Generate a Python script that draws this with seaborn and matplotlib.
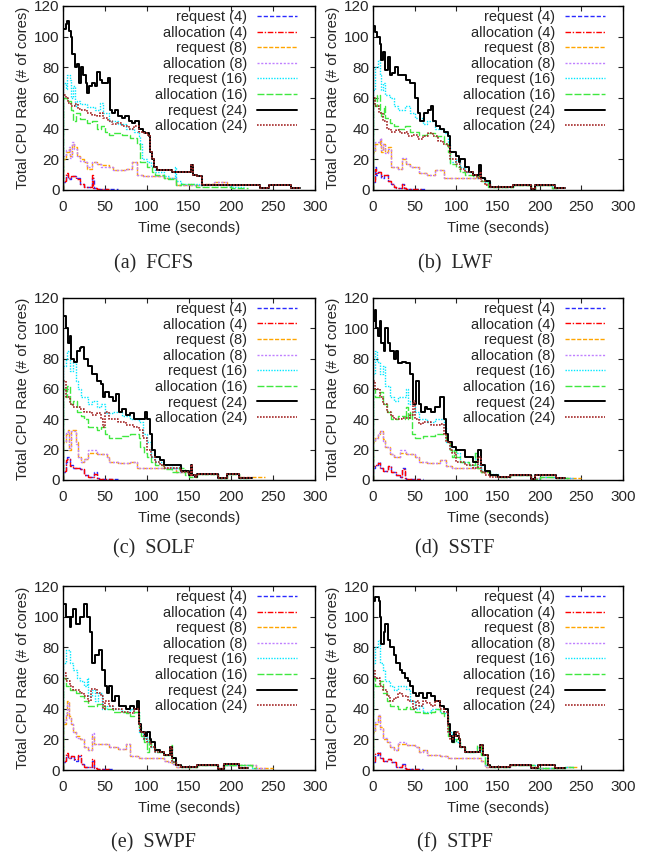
import pandas as pd
import matplotlib
matplotlib.use("Agg")
import matplotlib.pyplot as plt
import seaborn as sns

# step traces of total cpu rate, request vs allocation, one panel per scheduler

labels = ["request (4)", "allocation (4)", "request (8)", "allocation (8)",
          "request (16)", "allocation (16)", "request (24)", "allocation (24)"]
captions = ["(a)  FCFS", "(b)  LWF", "(c)  SOLF", "(d)  SSTF", "(e)  SWPF", "(f)  STPF"]

# ---- FCFS
fcfs_req4 = [(0,0),(0.5,5),(3,10),(6,7),(10,9),(15,8),(20,4),(25,2),(33,2),(35,8),(37,1),(40,0.5),(65,0.5)]
fcfs_alc4 = [(0,0),(0.5,6),(3,11),(6,8),(10,9),(15,7),(20,4),(25,2),(33,2),(35,10),(36,1),(40,0.5),(55,0.5)]
fcfs_req8 = [(0,0),(0.5,20),(3,25),(7,27),(8,22),(11,30),(13,28),(17,22),(20,20),(25,18),(28,14),(35,18),(40,17),(45,16),(55,15),(60,13),(75,14),(82,18),(88,10),(95,9),(110,9),(120,8),(134,3),(165,4),(180,5),(195,3),(210,3)]
fcfs_alc8 = [(0,0),(0.5,22),(3,26),(7,28),(8,21),(11,31),(13,27),(17,22),(20,19),(25,18),(28,15),(35,18),(40,17),(45,15),(55,15),(60,13),(75,14),(82,18),(88,10),(95,9),(110,9),(120,8),(134,3),(165,4),(180,5),(195,3),(205,3)]
fcfs_req16 = [(0,0),(0.5,70),(3,66),(5,75),(8,72),(10,60),(12,68),(14,55),(17,58),(20,56),(28,54),(38,52),(44,57),(48,50),(55,45),(65,43),(75,40),(85,38),(90,35),(92,30),(94,20),(100,18),(105,15),(110,12),(120,9),(126,8),(133,15),(135,6),(140,4),(162,3),(200,2),(215,2)]
fcfs_alc16 = [(0,0),(0.5,60),(5,58),(9,52),(12,45),(15,50),(20,46),(28,44),(34,45),(40,40),(45,42),(50,38),(55,36),(60,37),(70,36),(80,34),(88,30),(92,18),(100,15),(106,12),(110,10),(120,8),(125,7),(134,3),(140,4),(158,2),(200,1),(220,1)]
fcfs_req24 = [(0,0),(0.5,105),(3,108),(5,110),(7,104),(9,100),(11,89),(14,80),(17,82),(19,70),(21,80),(24,75),(27,70),(29,63),(31,68),(35,70),(38,68),(41,77),(44,72),(47,70),(54,73),(56,52),(58,50),(62,52),(66,48),(70,47),(74,48),(78,45),(82,44),(86,45),(90,40),(95,38),(98,37),(102,35),(104,25),(106,20),(108,15),(112,13),(130,12),(152,16),(155,10),(160,9),(166,3),(234,1),(245,3),(271,1),(282,1)]
fcfs_alc24 = [(0,0),(0.5,62),(3,60),(6,57),(10,55),(14,56),(18,53),(22,52),(28,50),(34,49),(40,48),(44,50),(48,47),(54,45),(58,43),(64,44),(70,42),(78,40),(84,42),(90,38),(96,37),(100,36),(104,25),(106,20),(108,15),(112,13),(130,12),(152,16),(155,10),(160,9),(166,3),(234,1),(245,3),(271,1),(282,1)]

# ---- LWF
lwf_req4 = [(0,0),(0.5,5),(2,15),(4,10),(6,12),(10,8),(13,10),(18,6),(22,4),(25,2),(28,1),(35,4),(37,1),(40,0.5),(63,0.5)]
lwf_alc4 = [(0,0),(0.5,6),(2,14),(4,11),(6,12),(10,9),(13,10),(18,6),(22,4),(25,2),(28,1),(35,4),(37,1),(40,0.5),(58,0.5)]
lwf_req8 = [(0,0),(0.5,25),(3,30),(8,33),(10,25),(12,30),(15,25),(18,28),(22,15),(30,14),(35,20),(40,17),(45,15),(55,11),(65,10),(75,13),(85,8),(130,8),(135,4),(140,2),(168,3),(190,0.5),(195,3),(215,1),(220,1)]
lwf_alc8 = [(0,0),(0.5,26),(3,31),(8,34),(10,26),(12,30),(15,24),(18,27),(22,15),(30,14),(35,21),(40,17),(45,15),(55,11),(65,10),(75,13),(85,8),(130,8),(135,4),(140,2),(168,3),(190,0.5),(195,3),(215,1),(220,1)]
lwf_req16 = [(0,0),(0.5,65),(3,80),(6,85),(8,75),(10,65),(12,70),(15,62),(20,60),(25,55),(30,52),(38,55),(44,50),(50,47),(60,43),(65,45),(75,40),(85,37),(90,30),(93,18),(100,20),(105,15),(110,12),(120,10),(125,8),(135,5),(140,2),(168,3),(190,0.5),(195,3),(215,1),(222,1)]
lwf_alc16 = [(0,0),(0.5,60),(3,55),(5,62),(8,52),(10,48),(13,55),(15,47),(20,44),(25,42),(30,40),(38,42),(44,38),(55,36),(65,37),(75,35),(85,30),(90,25),(93,17),(100,15),(105,12),(110,10),(120,9),(130,6),(138,2),(168,3),(190,0.5),(195,3),(215,1),(222,1)]
lwf_req24 = [(0,0),(0.5,107),(3,103),(5,100),(8,95),(10,85),(12,90),(15,78),(18,87),(20,75),(23,76),(26,80),(30,75),(40,72),(45,70),(50,60),(54,50),(57,45),(61,50),(66,52),(70,55),(72,45),(76,42),(80,40),(85,38),(90,35),(93,25),(100,22),(103,18),(105,20),(110,15),(115,12),(120,10),(127,16),(130,8),(135,6),(140,2),(168,3),(190,0.5),(195,3),(218,1),(230,1)]
lwf_alc24 = [(0,0),(0.5,60),(3,55),(7,50),(12,45),(17,40),(22,38),(28,39),(33,37),(38,38),(42,35),(48,36),(54,33),(60,35),(66,37),(72,35),(78,32),(84,30),(90,28),(93,20),(100,17),(105,14),(110,12),(120,10),(125,8),(128,12),(130,6),(135,3),(140,2),(168,3),(190,0.5),(195,3),(218,1),(230,1)]

# ---- SOLF
solf_req4 = [(0,0),(0.5,5),(3,12),(5,15),(8,10),(12,8),(20,7),(25,3),(30,2),(37,5),(40,1),(43,0.5),(65,0.5)]
solf_alc4 = [(0,0),(0.5,6),(3,13),(5,14),(8,9),(12,8),(20,7),(25,3),(30,2),(37,4),(40,1),(43,0.5),(60,0.5)]
solf_req8 = [(0,0),(0.5,25),(3,30),(6,33),(7,20),(10,33),(15,25),(18,15),(22,12),(25,14),(30,18),(40,17),(52,15),(55,12),(65,11),(80,12),(88,8),(130,8),(135,5),(150,3),(160,4),(185,1),(195,4),(210,2),(240,2)]
solf_alc8 = [(0,0),(0.5,26),(3,31),(6,32),(7,21),(10,32),(15,24),(18,15),(22,12),(25,14),(30,20),(40,17),(52,15),(55,12),(65,11),(80,12),(88,8),(130,8),(135,5),(150,3),(160,4),(185,1),(195,4),(210,2),(225,2)]
solf_req16 = [(0,0),(0.5,75),(3,80),(5,85),(8,72),(12,78),(15,65),(18,60),(22,55),(30,50),(35,52),(40,48),(45,50),(50,44),(60,45),(70,42),(80,40),(90,38),(95,30),(100,25),(105,15),(110,12),(120,10),(130,8),(138,10),(140,5),(150,3),(160,4),(185,1),(195,4),(210,1),(222,1)]
solf_alc16 = [(0,0),(0.5,60),(3,55),(5,62),(8,50),(12,52),(17,45),(22,42),(25,40),(30,35),(40,33),(45,35),(50,30),(55,28),(70,29),(80,30),(90,28),(92,22),(97,18),(100,15),(105,12),(110,10),(120,7),(130,5),(138,8),(145,3),(150,2),(160,4),(185,1),(195,4),(210,1),(220,1)]
solf_req24 = [(0,0),(0.5,108),(3,100),(6,90),(8,95),(10,80),(13,78),(17,85),(20,87),(22,88),(25,80),(30,75),(35,70),(40,65),(45,63),(48,55),(50,58),(55,55),(60,52),(63,57),(67,45),(70,47),(75,43),(80,44),(85,40),(92,40),(98,45),(100,40),(103,30),(106,20),(110,15),(115,13),(120,10),(135,10),(140,6),(150,3),(152,10),(154,3),(157,2),(160,4),(185,1),(195,4),(210,1),(225,1)]
solf_alc24 = [(0,0),(0.5,65),(3,55),(8,50),(12,48),(20,47),(25,45),(35,43),(40,44),(45,40),(48,35),(50,45),(55,40),(65,38),(75,36),(85,35),(90,33),(95,28),(100,20),(105,15),(110,12),(115,10),(120,8),(135,8),(140,5),(150,3),(152,10),(154,3),(157,2),(160,4),(185,1),(195,4),(210,1),(225,1)]

# ---- SSTF
sstf_req4 = [(0,0),(0.5,8),(3,10),(6,12),(8,8),(12,6),(18,9),(22,5),(28,3),(32,2),(35,8),(38,1),(40,0.5),(60,0.5)]
sstf_alc4 = [(0,0),(0.5,9),(3,10),(6,11),(8,8),(12,6),(18,9),(22,5),(28,3),(32,2),(35,7),(38,1),(40,0.5),(56,0.5)]
sstf_req8 = [(0,0),(0.5,25),(3,28),(6,30),(9,32),(12,27),(15,22),(20,17),(25,15),(32,18),(40,17),(50,15),(55,12),(65,11),(80,13),(88,9),(95,8),(125,8),(130,5),(140,3),(150,2),(165,3),(190,1),(200,2),(220,1),(250,1)]
sstf_alc8 = [(0,0),(0.5,26),(3,28),(6,31),(9,32),(12,26),(15,22),(20,17),(25,15),(32,20),(40,17),(50,15),(55,12),(65,11),(80,13),(88,9),(95,8),(125,8),(130,5),(140,3),(150,2),(165,3),(190,1),(200,2),(220,1),(240,1)]
sstf_req16 = [(0,0),(0.5,70),(3,85),(5,78),(8,70),(12,75),(15,62),(20,55),(25,52),(30,55),(40,60),(42,50),(45,52),(50,45),(55,40),(65,38),(75,40),(85,35),(88,25),(92,20),(100,18),(105,12),(115,10),(122,18),(125,10),(130,6),(140,4),(150,2),(165,3),(190,0.5),(200,2),(220,1),(240,1)]
sstf_alc16 = [(0,0),(0.5,60),(3,55),(8,58),(12,50),(17,45),(22,40),(30,42),(38,40),(40,48),(42,40),(45,45),(47,30),(50,28),(60,29),(75,30),(88,25),(92,20),(95,15),(97,20),(100,15),(105,12),(115,10),(122,18),(125,8),(130,5),(140,3),(150,2),(165,3),(190,0.5),(200,2),(220,1),(235,1)]
sstf_req24 = [(0,0),(0.5,105),(2,112),(4,100),(6,95),(8,105),(10,90),(13,85),(15,100),(18,90),(20,85),(25,80),(28,85),(30,77),(35,78),(40,77),(45,70),(48,50),(52,65),(55,50),(58,45),(62,48),(65,47),(70,45),(75,48),(80,55),(85,40),(88,30),(90,25),(95,22),(100,20),(110,15),(120,12),(126,20),(130,10),(135,6),(140,3),(150,2),(165,3),(190,0.5),(195,3),(220,1),(230,1)]
sstf_alc24 = [(0,0),(0.5,65),(3,60),(8,55),(12,50),(17,45),(22,42),(25,40),(35,41),(45,43),(48,52),(50,40),(55,37),(60,38),(70,36),(80,37),(85,30),(88,25),(92,20),(95,18),(100,12),(110,10),(120,8),(126,15),(130,5),(135,3),(140,2),(165,3),(190,0.5),(195,3),(220,1),(230,1)]

# ---- SWPF
swpf_req4 = [(0,0),(0.5,5),(3,10),(6,8),(10,9),(13,6),(18,9),(22,4),(25,2),(33,2),(35,6),(37,1),(40,0.5),(60,0.5)]
swpf_alc4 = [(0,0),(0.5,6),(3,11),(6,8),(10,9),(13,7),(18,10),(22,4),(25,2),(33,2),(35,7),(37,1),(40,0.5),(55,0.5)]
swpf_req8 = [(0,0),(0.5,30),(3,35),(5,45),(7,35),(10,30),(12,25),(15,22),(20,20),(25,15),(30,13),(35,22),(37,17),(50,17),(55,15),(65,14),(75,17),(80,9),(90,8),(115,8),(120,6),(125,5),(130,4),(135,2),(160,3),(185,1),(190,3),(230,1),(250,1)]
swpf_alc8 = [(0,0),(0.5,31),(3,37),(5,44),(7,34),(10,30),(12,25),(15,21),(20,20),(25,15),(30,13),(35,24),(37,17),(50,17),(55,15),(65,14),(75,17),(80,9),(90,8),(115,8),(120,6),(125,5),(130,4),(135,2),(160,3),(185,1),(190,3),(230,1),(240,1)]
swpf_req16 = [(0,0),(0.5,70),(3,78),(8,70),(12,65),(17,60),(20,58),(25,55),(28,60),(30,48),(35,52),(38,45),(42,50),(47,40),(52,42),(60,40),(70,38),(80,40),(85,38),(90,25),(95,20),(98,22),(100,18),(105,15),(110,12),(120,10),(127,15),(130,6),(135,3),(140,2),(160,3),(185,0.5),(192,3),(225,1),(230,1)]
swpf_alc16 = [(0,0),(0.5,60),(3,55),(8,52),(15,50),(20,48),(25,45),(30,42),(40,43),(45,42),(50,40),(60,38),(75,37),(80,35),(85,38),(90,28),(93,22),(97,18),(100,12),(102,20),(105,15),(110,12),(120,10),(127,16),(130,5),(135,3),(140,2),(160,3),(185,0.5),(192,3),(225,1),(230,1)]
swpf_req24 = [(0,0),(0.5,108),(4,100),(8,93),(10,100),(12,105),(15,95),(20,100),(25,108),(28,100),(32,90),(35,70),(38,75),(43,78),(47,65),(50,55),(52,50),(55,55),(58,45),(62,48),(67,42),(75,40),(80,42),(85,40),(88,45),(90,30),(93,25),(98,22),(100,25),(103,20),(105,18),(110,13),(115,12),(120,10),(127,15),(130,8),(135,3),(140,2),(160,3),(185,0.5),(192,4),(210,1),(220,1)]
swpf_alc24 = [(0,0),(0.5,63),(3,58),(8,55),(12,52),(20,50),(25,48),(30,45),(33,53),(40,50),(45,48),(48,40),(50,45),(55,42),(60,40),(70,38),(80,37),(85,40),(90,30),(92,25),(97,20),(100,18),(105,15),(110,12),(120,10),(127,15),(130,5),(135,3),(140,2),(160,3),(185,0.5),(192,4),(210,1),(220,1)]

# ---- STPF
stpf_req4 = [(0,0),(0.5,5),(3,10),(6,12),(8,8),(12,6),(18,7),(22,5),(28,2),(35,4),(38,1),(40,0.5),(60,0.5)]
stpf_alc4 = [(0,0),(0.5,6),(3,11),(6,11),(8,8),(12,6),(18,7),(22,5),(28,2),(35,3),(38,1),(40,0.5),(55,0.5)]
stpf_req8 = [(0,0),(0.5,25),(3,30),(6,35),(8,28),(12,20),(17,18),(20,15),(25,13),(30,17),(40,16),(50,15),(55,12),(60,13),(65,10),(80,9),(90,8),(125,8),(130,6),(135,2),(165,3),(195,1),(230,2),(245,2)]
stpf_alc8 = [(0,0),(0.5,26),(3,31),(6,36),(8,27),(12,21),(17,18),(20,15),(25,13),(30,18),(40,16),(50,15),(55,12),(60,13),(65,10),(80,9),(90,8),(125,8),(130,6),(135,2),(165,3),(195,1),(230,2),(240,2)]
stpf_req16 = [(0,0),(0.5,70),(3,80),(6,85),(8,70),(12,65),(15,58),(20,55),(25,52),(30,55),(40,53),(45,45),(50,40),(55,42),(60,38),(70,40),(80,38),(85,37),(90,25),(95,20),(100,18),(105,15),(110,12),(125,15),(130,10),(135,3),(140,2),(165,3),(195,1),(230,2),(240,1)]
stpf_alc16 = [(0,0),(0.5,60),(3,55),(8,58),(12,50),(17,45),(20,42),(30,40),(40,41),(45,40),(50,38),(60,37),(70,38),(75,40),(80,37),(85,35),(90,22),(95,18),(100,20),(105,15),(110,12),(125,16),(130,10),(135,3),(140,2),(165,3),(195,1),(230,2),(240,1)]
stpf_req24 = [(0,0),(0.5,110),(3,113),(7,110),(9,100),(10,82),(13,90),(15,95),(18,85),(20,80),(25,75),(28,70),(32,65),(35,63),(38,60),(42,58),(45,55),(48,50),(52,48),(55,50),(60,47),(65,50),(70,48),(75,45),(80,42),(85,40),(90,30),(93,22),(95,18),(97,25),(100,22),(103,20),(105,15),(110,12),(125,12),(129,16),(132,10),(138,3),(140,2),(165,3),(190,1),(198,3),(218,1),(230,1)]
stpf_alc24 = [(0,0),(0.5,65),(3,60),(8,55),(12,52),(17,48),(20,45),(25,47),(30,50),(35,48),(42,45),(48,40),(52,45),(55,42),(60,45),(65,44),(70,42),(75,45),(80,40),(85,38),(90,25),(93,20),(96,22),(100,25),(103,20),(105,15),(110,12),(125,12),(129,16),(132,10),(138,3),(140,2),(165,3),(190,1),(198,3),(218,1),(230,1)]

panels = [
    [fcfs_req4, fcfs_alc4, fcfs_req8, fcfs_alc8, fcfs_req16, fcfs_alc16, fcfs_req24, fcfs_alc24],
    [lwf_req4, lwf_alc4, lwf_req8, lwf_alc8, lwf_req16, lwf_alc16, lwf_req24, lwf_alc24],
    [solf_req4, solf_alc4, solf_req8, solf_alc8, solf_req16, solf_alc16, solf_req24, solf_alc24],
    [sstf_req4, sstf_alc4, sstf_req8, sstf_alc8, sstf_req16, sstf_alc16, sstf_req24, sstf_alc24],
    [swpf_req4, swpf_alc4, swpf_req8, swpf_alc8, swpf_req16, swpf_alc16, swpf_req24, swpf_alc24],
    [stpf_req4, stpf_alc4, stpf_req8, stpf_alc8, stpf_req16, stpf_alc16, stpf_req24, stpf_alc24],
]

colors = ["#2a2aff", "#ff0000", "#ffa500", "#c080ff", "#00e8ff", "#40e840", "#000000", "#a52a2a"]
styles = [(0, (3, 1.5)), (0, (4, 1.2, 1, 1.2)), (0, (3, 1.2)), (0, (1.5, 1.2)),
          (0, (1, 1)), (0, (5, 1.5)), "-", (0, (1, 0.8))]
widths = [1.0, 1.0, 1.0, 1.0, 1.0, 1.0, 1.4, 1.2]

sns.set_style("ticks")
plt.rcParams["font.family"] = ["Liberation Sans", "DejaVu Sans"]

fig = plt.figure(figsize=(6.57, 8.55), dpi=100)
lefts = [0.0959, 0.5677]
rows = [(0.7778, 0.2152), (0.4386, 0.2129), (0.0994, 0.2152)]
cap_y = [0.691, 0.358, 0.014]
cap_x = [0.234, 0.6925]

for i, series in enumerate(panels):
    r, c = divmod(i, 2)
    w = 0.3836 if c == 0 else 0.3805
    ax = fig.add_axes([lefts[c], rows[r][0], w, rows[r][1]])
    for k, s in enumerate(series):
        df = pd.DataFrame(s, columns=["t", "v"])
        sns.lineplot(data=df, x="t", y="v", ax=ax, estimator=None, sort=False,
                     drawstyle="steps-post", color=colors[k], linestyle=styles[k],
                     linewidth=widths[k], label=labels[k], legend=False)
    ax.set_xlim(0, 300)
    ax.set_ylim(0, 120)
    ax.set_xticks(range(0, 301, 50))
    ax.set_yticks(range(0, 121, 20))
    ax.tick_params(direction="in", top=True, right=True, length=3.5, width=0.8,
                   labelsize=11)
    ax.tick_params(axis="x", pad=7.5)
    ax.tick_params(axis="y", pad=2.5)
    for sp in ax.spines.values():
        sp.set_linewidth(1.0)
        sp.set_color("black")
    ax.set_xlabel("Time (seconds)", fontsize=10.7, labelpad=4.5)
    ax.set_ylabel("Total CPU Rate (# of cores)", fontsize=10.7, labelpad=3)
    ax.legend(loc="upper right", bbox_to_anchor=(0.93, 0.978), frameon=False,
              markerfirst=False, fontsize=10.5, handlelength=2.8, handletextpad=0.65,
              labelspacing=0.11, borderpad=0, borderaxespad=0)
    fig.text(cap_x[c], cap_y[r], captions[i], ha="center", va="center",
             fontsize=14.5, family=["Liberation Serif", "DejaVu Serif"])

fig.savefig("out.png", dpi=100)
